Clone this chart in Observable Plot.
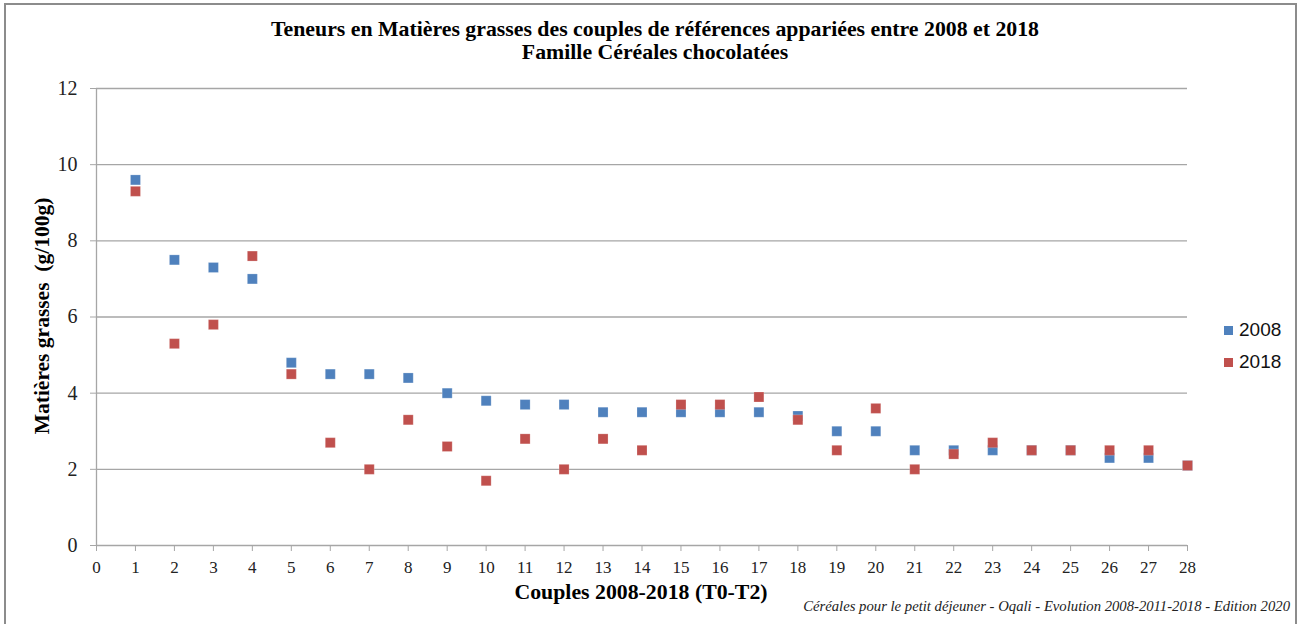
<!DOCTYPE html>
<html>
<head>
<meta charset="utf-8">
<script src="https://cdn.jsdelivr.net/npm/d3@7"></script>
<script src="https://cdn.jsdelivr.net/npm/@observablehq/plot@0.6"></script>
<style>
  html, body { margin: 0; padding: 0; background: #fff; }
  #wrap { position: relative; width: 1302px; height: 624px; overflow: hidden; background: #fff; }
  #frame { position: absolute; left: 4px; top: 3px; width: 1293px; height: 640px; border: 2px solid #8c8c8c; box-sizing: border-box; }
  .t { position: absolute; white-space: nowrap; color: #000; }
  #title { left: 0; width: 1310px; top: 18px; text-align: center; font: bold 21.8px "Liberation Serif", serif; line-height: 23px; }
  #ylab { left: 42px; top: 316px; transform: translate(-50%, -50%) rotate(-90deg); font: bold 21.5px "Liberation Serif", serif; }
  #xlab { left: 641px; top: 580px; transform: translateX(-50%); font: bold 21.8px "Liberation Serif", serif; }
  #cap { right: 12px; top: 598px; font: italic 14.7px "Liberation Serif", serif; color: #222; }
  .leg { position: absolute; left: 1224px; font: 19px "Liberation Sans", sans-serif; color: #111; }
  .leg span.sw { display: inline-block; width: 9px; height: 9px; margin-right: 6px; vertical-align: 1px; }
  #plot { position: absolute; left: 0; top: 0; }
</style>
</head>
<body>
<div id="wrap">
  <div id="frame"></div>
  <div id="plot"></div>
  <div id="title" class="t">Teneurs en Matières grasses des couples de références appariées entre 2008 et 2018<br>Famille Céréales chocolatées</div>
  <div id="ylab" class="t">Matières grasses&nbsp; (g/100g)</div>
  <div id="xlab" class="t">Couples 2008-2018 (T0-T2)</div>
  <div id="cap" class="t">Céréales pour le petit déjeuner - Oqali - Evolution 2008-2011-2018 - Edition 2020</div>
  <div id="legend"></div>
</div>
<script>
const couples = [1,2,3,4,5,6,7,8,9,10,11,12,13,14,15,16,17,18,19,20,21,22,23,24,25,26,27,28];
const values2008 = [9.6,7.5,7.3,7.0,4.8,4.5,4.5,4.4,4.0,3.8,3.7,3.7,3.5,3.5,3.5,3.5,3.5,3.4,3.0,3.0,2.5,2.5,2.5,2.5,2.5,2.3,2.3,2.1];
const values2018 = [9.3,5.3,5.8,7.6,4.5,2.7,2.0,3.3,2.6,1.7,2.8,2.0,2.8,2.5,3.7,3.7,3.9,3.3,2.5,3.6,2.0,2.4,2.7,2.5,2.5,2.5,2.5,2.1];
const seriesNames = ["2008", "2018"];
const seriesColors = ["#4f81bd", "#c0504d"];
const xTicks = d3.range(0, 29);
const yTicks = [0, 2, 4, 6, 8, 10, 12];

const data = [];
couples.forEach((c, i) => data.push({couple: c, value: values2008[i], serie: seriesNames[0]}));
couples.forEach((c, i) => data.push({couple: c, value: values2018[i], serie: seriesNames[1]}));

const grid = "#a6a6a6";
const chart = Plot.plot({
  width: 1302,
  height: 624,
  marginTop: 88,
  marginBottom: 79,
  marginLeft: 96,
  marginRight: 115,
  style: { fontFamily: "Liberation Serif, serif", fontSize: "17px", color: "#222", background: "transparent" },
  x: { domain: [0, 28], ticks: xTicks, label: null },
  y: { domain: [0, 12], ticks: yTicks, label: null },
  color: { domain: seriesNames, range: seriesColors },
  marks: [
    Plot.ruleY(yTicks.filter(d => d > 0), { stroke: grid, strokeWidth: 1.3 }),
    Plot.ruleX([0], { stroke: grid, strokeWidth: 1.3 }),
    Plot.ruleY([0], { stroke: grid, strokeWidth: 1.3 }),
    Plot.axisY({ ticks: yTicks, tickSize: 6, tickPadding: 13, stroke: grid, strokeOpacity: 1, fontSize: 20, tickFormat: d => d, label: null }),
    Plot.axisX({ ticks: xTicks, tickSize: 6, tickPadding: 9, stroke: grid, strokeOpacity: 1, fontSize: 17, tickFormat: d => d, label: null }),
    Plot.dot(data, { x: "couple", y: "value", fill: "serie", symbol: "square", r: 5.64, stroke: "#fff", strokeOpacity: 0.35, strokeWidth: 0.6 })
  ]
});
document.getElementById("plot").appendChild(chart);

const leg = document.getElementById("legend");
seriesNames.forEach((n, i) => {
  const d = document.createElement("div");
  d.className = "leg";
  d.style.top = (319 + i * 32) + "px";
  d.innerHTML = `<span class="sw" style="background:${seriesColors[i]}"></span>${n}`;
  leg.appendChild(d);
});
</script>
</body>
</html>
